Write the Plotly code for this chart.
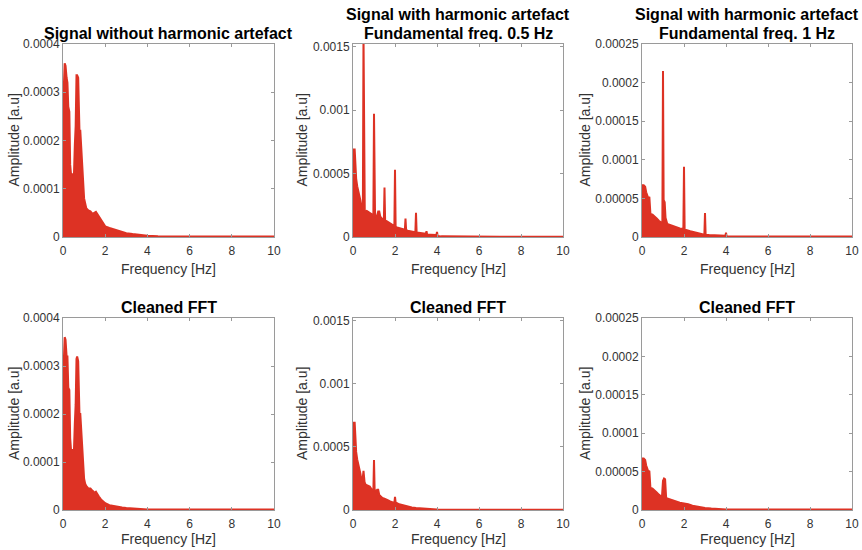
import plotly.graph_objects as go

# ---------------- data ----------------
# Panel 1: signal without harmonic artefact (amplitude x1e-4)
f1 = [0, 0.03, 0.08, 0.12, 0.17, 0.21, 0.25, 0.3, 0.34, 0.38, 0.45, 0.52, 0.56, 0.6, 0.64, 0.67,
      0.72, 0.75, 0.78, 0.82, 0.86, 0.9, 0.95, 1.0, 1.05, 1.1, 1.2, 1.3, 1.4, 1.5, 1.56, 1.62, 1.7,
      1.8, 1.9, 2.0, 2.2, 2.4, 2.6, 2.8, 3.0, 3.3, 3.6, 4.0, 4.5, 5, 6, 7, 8, 9, 10]
a1 = [1.1, 3.0, 3.6, 3.55, 3.3, 3.2, 2.7, 2.6, 1.5, 1.3, 1.3, 1.3, 1.9, 2.3, 3.35, 3.35,
      3.3, 2.25, 2.2, 2.2, 1.9, 1.5, 1.1, 0.8, 0.7, 0.6, 0.55, 0.53, 0.48, 0.5, 0.52, 0.48, 0.43,
      0.36, 0.28, 0.22, 0.19, 0.16, 0.13, 0.1, 0.08, 0.06, 0.04, 0.025, 0.015, 0.012, 0.01, 0.01, 0.01, 0.01, 0.01]

# Panel 4: cleaned FFT of panel 1 (amplitude x1e-4)
f4 = f1
a4 = [1.1, 3.0, 3.6, 3.55, 3.2, 3.2, 2.55, 2.5, 1.5, 1.25, 1.25, 1.25, 1.8, 2.2, 3.15, 3.2,
      3.1, 2.05, 2.0, 2.0, 1.7, 1.3, 0.9, 0.65, 0.55, 0.5, 0.45, 0.45, 0.4, 0.36, 0.38, 0.33, 0.28,
      0.22, 0.17, 0.14, 0.1, 0.08, 0.07, 0.05, 0.04, 0.03, 0.02, 0.012, 0.01, 0.01, 0.01, 0.01, 0.01, 0.01, 0.01]

# Panel 2: harmonic artefact, fundamental 0.5 Hz (amplitude x1e-4)
f2 = [0, 0.04, 0.08, 0.1, 0.13, 0.15, 0.2, 0.25, 0.3, 0.35, 0.4, 0.44, 0.47, 0.5, 0.53, 0.56,
      0.65, 0.75, 0.85, 0.95, 0.97, 1.0, 1.03, 1.05, 1.15, 1.2, 1.25, 1.3, 1.4, 1.47, 1.5, 1.53,
      1.6, 1.7, 1.8, 1.9, 1.97, 2.0, 2.03, 2.1, 2.2, 2.3, 2.4, 2.47, 2.5, 2.53, 2.6, 2.7, 2.8,
      2.9, 2.97, 3.0, 3.03, 3.2, 3.4, 3.47, 3.5, 3.53, 3.7, 3.9, 3.97, 4.0, 4.03, 4.2, 4.5, 5,
      6, 7, 8, 9, 10]
a2 = [2.0, 6.9, 6.9, 6.2, 4.7, 4.6, 4.0, 3.7, 3.3, 2.9, 2.4, 2.2, 2.1, 16.0, 2.1, 2.0,
      2.05, 1.95, 1.8, 1.7, 1.7, 9.7, 1.7, 1.65, 1.7, 2.0, 2.0, 1.6, 1.4, 1.3, 3.9, 1.3,
      1.25, 1.15, 1.0, 0.9, 0.85, 5.3, 0.8, 0.75, 0.7, 0.65, 0.6, 0.58, 1.45, 0.55, 0.5, 0.45, 0.42,
      0.4, 0.4, 1.9, 0.35, 0.3, 0.25, 0.25, 0.45, 0.2, 0.18, 0.15, 0.15, 0.4, 0.08, 0.05, 0.04, 0.03,
      0.025, 0.02, 0.02, 0.02, 0.02]

# Panel 5: cleaned FFT of panel 2 (amplitude x1e-4)
f5 = [0, 0.04, 0.08, 0.1, 0.13, 0.15, 0.2, 0.25, 0.3, 0.35, 0.4, 0.45, 0.5, 0.55, 0.6, 0.7,
      0.8, 0.9, 0.97, 1.0, 1.03, 1.1, 1.15, 1.2, 1.25, 1.3, 1.4, 1.5, 1.6, 1.7, 1.8, 1.9, 1.97,
      2.0, 2.03, 2.2, 2.4, 2.6, 2.8, 3.0, 3.3, 3.6, 4.0, 4.5, 5, 6, 7, 8, 9, 10]
a5 = [2.0, 6.9, 6.9, 6.2, 4.7, 4.6, 4.0, 3.7, 3.3, 2.9, 2.4, 2.3, 3.1, 2.2, 2.0, 1.95,
      1.85, 1.6, 1.5, 3.95, 1.6, 1.5, 1.6, 1.6, 1.2, 1.1, 0.95, 0.9, 0.85, 0.75, 0.65, 0.6, 0.55,
      1.05, 0.6, 0.45, 0.35, 0.25, 0.2, 0.15, 0.1, 0.06, 0.03, 0.02, 0.02, 0.02, 0.02, 0.02, 0.02, 0.02]

# Panel 3: harmonic artefact, fundamental 1 Hz (amplitude x1e-5)
f3 = [0, 0.04, 0.08, 0.15, 0.2, 0.25, 0.3, 0.35, 0.4, 0.5, 0.6, 0.7, 0.8, 0.9, 0.97, 1.0,
      1.03, 1.08, 1.12, 1.2, 1.4, 1.6, 1.8, 1.97, 2.0, 2.03, 2.1, 2.3, 2.5, 2.7, 2.9, 2.97, 3.0,
      3.03, 3.2, 3.5, 3.97, 4.0, 4.03, 4.5, 5, 6, 7, 8, 9, 10]
a3 = [2.0, 6.7, 6.7, 6.5, 5.8, 5.2, 5.0, 5.2, 3.0, 2.9, 2.7, 2.4, 2.1, 1.9, 1.9, 21.5,
      4.8, 4.5, 2.5, 1.7, 1.5, 1.3, 1.1, 1.05, 9.1, 1.0, 0.9, 0.75, 0.6, 0.45, 0.35, 0.3, 3.1,
      0.3, 0.25, 0.2, 0.15, 0.55, 0.1, 0.08, 0.06, 0.08, 0.08, 0.06, 0.05, 0.05]

# Panel 6: cleaned FFT of panel 3 (amplitude x1e-5)
f6 = [0, 0.04, 0.08, 0.15, 0.2, 0.25, 0.3, 0.35, 0.4, 0.5, 0.6, 0.7, 0.8, 0.9, 0.95, 1.0,
      1.05, 1.1, 1.15, 1.2, 1.4, 1.6, 1.8, 2.0, 2.2, 2.4, 2.6, 2.8, 3.0, 3.3, 3.6, 4, 5, 6, 7,
      8, 9, 10]
a6 = [2.0, 6.7, 6.7, 6.5, 5.8, 5.2, 5.0, 5.1, 2.9, 2.8, 2.6, 2.3, 2.0, 1.8, 1.7, 3.8,
      4.1, 4.0, 1.6, 1.5, 1.3, 1.1, 0.95, 0.85, 0.75, 0.55, 0.45, 0.3, 0.25, 0.18, 0.12, 0.08, 0.05,
      0.05, 0.05, 0.05, 0.05, 0.05]

titles = ["Signal without harmonic artefact",
          "Signal with harmonic artefact<br>Fundamental freq. 0.5 Hz",
          "Signal with harmonic artefact<br>Fundamental freq. 1 Hz",
          "Cleaned FFT", "Cleaned FFT", "Cleaned FFT"]

xticks = [0, 2, 4, 6, 8, 10]
yt_a = [0, 0.0001, 0.0002, 0.0003, 0.0004]
yt_a_txt = ["0", "0.0001", "0.0002", "0.0003", "0.0004"]
yt_b = [0, 0.0005, 0.001, 0.0015]
yt_b_txt = ["0", "0.0005", "0.001", "0.0015"]
yt_c = [0, 0.00005, 0.0001, 0.00015, 0.0002, 0.00025]
yt_c_txt = ["0", "0.00005", "0.0001", "0.00015", "0.0002", "0.00025"]

# ---------------- figure ----------------
W, H = 862, 550
RED = "rgb(221,50,36)"
FONT = "Liberation Sans, Arial, sans-serif"
LINE = "#9a9a9a"

panels = [
    (f1, [v * 1e-4 for v in a1], (63, 274), (44, 237), [0, 0.0004], yt_a, yt_a_txt),
    (f2, [v * 1e-4 for v in a2], (353, 563), (44, 237), [0, 0.00152], yt_b, yt_b_txt),
    (f3, [v * 1e-5 for v in a3], (642, 852), (44, 237), [0, 0.00025], yt_c, yt_c_txt),
    (f4, [v * 1e-4 for v in a4], (63, 274), (318, 510), [0, 0.0004], yt_a, yt_a_txt),
    (f5, [v * 1e-4 for v in a5], (353, 563), (318, 510), [0, 0.00152], yt_b, yt_b_txt),
    (f6, [v * 1e-5 for v in a6], (642, 852), (318, 510), [0, 0.00025], yt_c, yt_c_txt),
]

fig = go.Figure()
layout = dict(width=W, height=H, margin=dict(l=0, r=0, t=0, b=0, autoexpand=False),
              paper_bgcolor="white", plot_bgcolor="white", showlegend=False,
              font=dict(family=FONT, color="#333333", size=12))
annotations = []
TFS = 16

for i, (fx, ay, (x0, x1), (y0, y1), yr, yv, ytx) in enumerate(panels):
    k = "" if i == 0 else str(i + 1)
    fig.add_trace(go.Scatter(x=fx, y=ay, mode="lines", fill="tozeroy",
                             line=dict(color=RED, width=2), fillcolor=RED,
                             xaxis="x" + k, yaxis="y" + k, hoverinfo="skip"))
    layout["xaxis" + k] = dict(domain=[x0 / W, x1 / W], anchor="y" + k, range=[0, 10],
                               tickvals=xticks, ticks="inside", ticklen=3, tickcolor=LINE,
                               showline=True, linecolor=LINE, linewidth=1, mirror="ticks",
                               showgrid=False, zeroline=False, tickfont=dict(size=12),
                               ticklabelstandoff=3, automargin=False)
    layout["yaxis" + k] = dict(domain=[1 - y1 / H, 1 - y0 / H], anchor="x" + k, range=yr,
                               tickvals=yv, ticktext=ytx, ticks="inside", ticklen=3,
                               tickcolor=LINE, showline=True, linecolor=LINE, linewidth=1,
                               mirror="ticks", showgrid=False, zeroline=False,
                               tickfont=dict(size=12), automargin=False)
    cx = (x0 + x1) / 2 / W
    # titles
    if "<br>" in titles[i]:
        l1, l2 = titles[i].split("<br>")
        for txt, ty in ((l1, 14), (l2, 34)):
            annotations.append(dict(text="<b>%s</b>" % txt, x=cx, y=1 - ty / H, xref="paper", yref="paper",
                                    showarrow=False, xanchor="center", yanchor="middle",
                                    font=dict(size=TFS, color="black", family=FONT)))
    else:
        ty = 34 if i < 3 else 307
        annotations.append(dict(text="<b>%s</b>" % titles[i], x=cx, y=1 - ty / H, xref="paper", yref="paper",
                                showarrow=False, xanchor="center", yanchor="middle",
                                font=dict(size=TFS, color="black", family=FONT)))
    # axis labels
    fy = 269 if i < 3 else 539
    annotations.append(dict(text="Frequency [Hz]", x=cx, y=1 - fy / H, xref="paper", yref="paper",
                            showarrow=False, xanchor="center", yanchor="middle", borderpad=0,
                            font=dict(size=14, color="#333333", family=FONT)))
    lx = [14, 302, 585][i % 3]
    annotations.append(dict(text="Amplitude [a.u]", x=lx / W, y=1 - (y0 + y1) / 2 / H,
                            xref="paper", yref="paper", showarrow=False, textangle=-90,
                            xanchor="center", yanchor="middle",
                            font=dict(size=14, color="#333333", family=FONT)))

layout["annotations"] = annotations
fig.update_layout(**layout)
fig.write_html("out.html", config={"displayModeBar": False},
               post_script="document.body.style.margin='0';document.body.style.overflow='hidden';")
